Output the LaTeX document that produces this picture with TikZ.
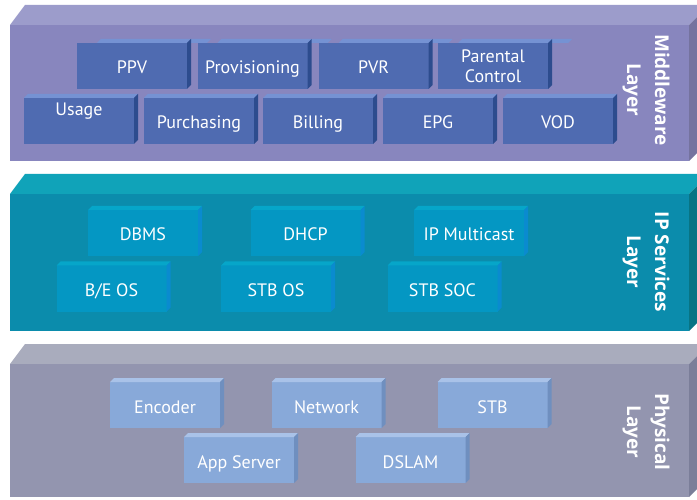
\documentclass[tikz,border=0pt]{standalone}
\usepackage{fontspec}
\setmainfont{PT Sans}
\newfontfamily\lblfont{Open Sans}

% layer colours
\definecolor{mwtop}{HTML}{9C9CCB}
\definecolor{mwfront}{HTML}{8886BE}
\definecolor{mwside}{HTML}{75739F}
\definecolor{mwblk}{HTML}{4F6BB1}
\definecolor{mwblktop}{HTML}{7592D3}
\definecolor{mwblkside}{HTML}{2D4C8E}
\definecolor{iptop}{HTML}{10A3B9}
\definecolor{ipfront}{HTML}{0B8CAC}
\definecolor{ipside}{HTML}{087484}
\definecolor{ipblk}{HTML}{0497C3}
\definecolor{ipblktop}{HTML}{06A6C9}
\definecolor{ipblkside}{HTML}{0A8BCF}
\definecolor{phtop}{HTML}{A9ACBD}
\definecolor{phfront}{HTML}{9395AF}
\definecolor{phside}{HTML}{7B7E99}
\definecolor{phblk}{HTML}{88A9D9}
\definecolor{phblktop}{HTML}{A9C2E8}
\definecolor{phblkside}{HTML}{6F8FBF}

% shift of the top strip of a box
\def\stripdx{0}

% box with top strip and right side: [options]{name}{x}{y}{layer}{text}
\newcommand{\blk}[6][]{%
  \node[blk, fill=#5blk, #1] (#2) at (#3,#4) {#6};
  \fill[#5blktop] ([xshift=\stripdx pt]#2.north west) -- ++(4,-4)
    -- ([xshift=\stripdx pt+4pt, yshift=4pt]#2.north east) -- ([xshift=\stripdx pt]#2.north east) -- cycle;
  \fill[#5blkside] (#2.north east) -- ++(4,-4) -- ([shift={(4pt,4pt)}]#2.south east) -- (#2.south east) -- cycle;
}

\begin{document}
\begin{tikzpicture}[x=1pt,y=-1pt,
    blk/.style={minimum width=110pt, minimum height=46pt, inner sep=0pt, outer sep=0pt,
      text=white, font=\fontsize{18}{20}\selectfont, align=center,
      text height=16pt, text depth=0pt},
    lbl/.style={rotate=-90, text=white, font=\lblfont\bfseries\fontsize{19}{28}\selectfont, align=center}]
    \useasboundingbox (0,0) rectangle (697,500);
    \fill[white] (0,0) rectangle (697,500);

    % Middleware slab
    \fill[mwtop] (10,25) -- (25,5) -- (709,5) -- (689,25) -- cycle;
    \fill[mwfront] (10,25) rectangle (689,161);
    \fill[mwside] (689,25) -- (709,5) -- (709,141) -- (689,161) -- cycle;

    % IP services slab
    \fill[iptop] (10,194) -- (25,174) -- (709,174) -- (689,194) -- cycle;
    \fill[ipfront] (10,194) rectangle (689,331);
    \fill[ipside] (689,194) -- (709,174) -- (709,311) -- (689,331) -- cycle;

    % Physical slab
    \fill[phtop] (10,364) -- (25,344) -- (709,344) -- (689,364) -- cycle;
    \fill[phfront] (10,364) rectangle (689,497);
    \fill[phside] (689,364) -- (709,344) -- (709,477) -- (689,497) -- cycle;

    % Middleware boxes, back row
    \def\stripdx{20}
    \blk{ppv}{132}{66}{mw}{PPV}
    \blk{prov}{252.5}{66}{mw}{Provisioning}
    \blk{pvr}{373.5}{66}{mw}{PVR}
    \blk[text height=38pt, text depth=4pt]{parental}{493}{66}{mw}{Parental\\Control}
    \def\stripdx{0}
    % front row
    \blk[text height=12pt, text depth=22pt]{usage}{79}{121}{mw}{Usage}
    \blk{purch}{199}{121}{mw}{Purchasing}
    \blk{billing}{318}{121}{mw}{Billing}
    \blk{epg}{438}{121}{mw}{EPG}
    \blk{vod}{558}{121}{mw}{VOD}

    % IP services boxes
    \blk{dbms}{143}{233}{ip}{DBMS}
    \blk{dhcp}{305.5}{233}{ip}{DHCP}
    \blk{ipmc}{469}{233}{ip}{IP Multicast}
    \blk{beos}{111.5}{288.5}{ip}{B/E OS}
    \blk{stbos}{276}{288.5}{ip}{STB OS}
    \blk{stbsoc}{442.5}{288.5}{ip}{STB SOC}

    % Physical boxes
    \blk{enc}{165}{405}{ph}{Encoder}
    \blk{net}{326.5}{405}{ph}{Network}
    \blk{stb}{492.5}{405}{ph}{STB}
    \blk{appsrv}{239}{460}{ph}{App Server}
    \blk{dslam}{410.5}{460}{ph}{DSLAM}

    % Layer names
    \node[lbl] (mwname) at (646,90) {Middleware\\Layer};
    \node[lbl] (ipname) at (646,262) {IP Services\\Layer};
    \node[lbl] (phname) at (646,432) {Physical\\Layer};
\end{tikzpicture}
\end{document}
